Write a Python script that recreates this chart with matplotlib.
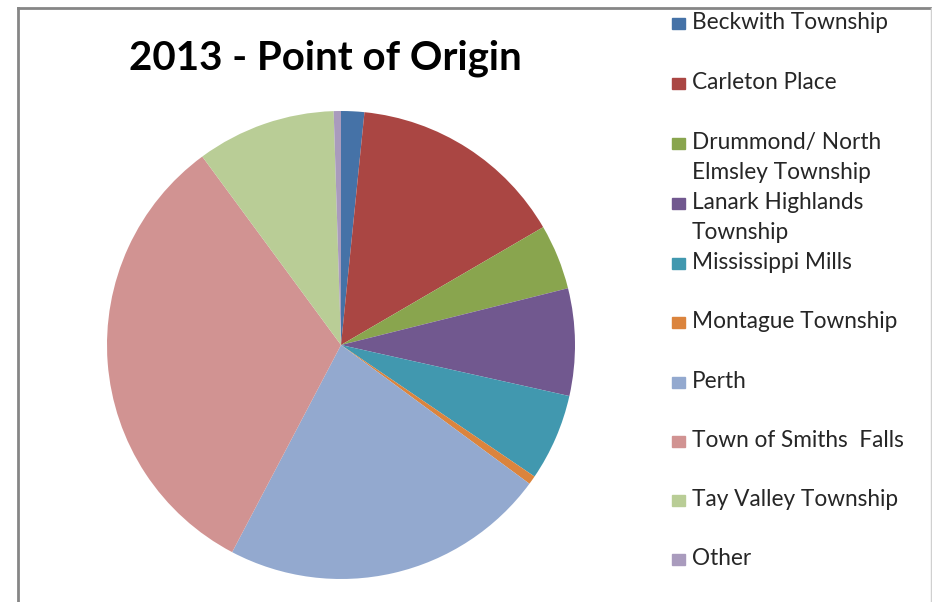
import matplotlib
matplotlib.use('Agg')
import matplotlib.pyplot as plt
from matplotlib.patches import Rectangle

# data
labels = ['Beckwith Township', 'Carleton Place', 'Drummond/ North\nElmsley Township',
          'Lanark Highlands\nTownship', 'Mississippi Mills', 'Montague Township',
          'Perth', 'Town of Smiths  Falls', 'Tay Valley Township', 'Other']
shares = [1.6, 15.0, 4.5, 7.4, 6.0, 0.6, 22.6, 32.2, 9.6, 0.5]
colors = ['#4572A7', '#AA4643', '#89A54E', '#71588F', '#4198AF',
          '#DB843D', '#93A9CF', '#D19392', '#B9CD96', '#A99BBD']

W, H = 932, 602
fig = plt.figure(figsize=(W / 100, H / 100), dpi=100)

# pie centre (341, 345), radius 234 in pixels
cx, cy, r = 341, 345, 234
ax = fig.add_axes([(cx - r) / W, (H - cy - r) / H, 2 * r / W, 2 * r / H])
ax.pie(shares, colors=colors, startangle=90, counterclock=False,
       wedgeprops={'linewidth': 0})
ax.set_xlim(-1, 1)
ax.set_ylim(-1, 1)
ax.set_aspect('equal')

fig.text(325 / W, 1 - 58 / H, '2013 - Point of Origin', ha='center', va='center',
         fontsize=29, fontweight='bold', family='Lato', color='black')

# legend, drawn by hand so the spacing matches (baseline of first line per entry)
base_y = [29, 89, 149, 209, 269, 328, 388, 447, 506, 565]
for lab, col, y in zip(labels, colors, base_y):
    fig.patches.append(Rectangle((672 / W, 1 - y / H), 13 / W, 11 / H,
                                 transform=fig.transFigure, color=col))
    for i, line in enumerate(lab.split('\n')):
        fig.text(692 / W, 1 - (y + 30 * i) / H, line, ha='left', va='baseline',
                 fontsize=16.3, family='Lato', color='#262626')

# frame lines
fig.add_artist(plt.Line2D([18 / W, 18 / W], [0, 1 - 8 / H], transform=fig.transFigure,
                          color='#868686', lw=2))
fig.add_artist(plt.Line2D([18 / W, 1], [1 - 8 / H, 1 - 8 / H], transform=fig.transFigure,
                          color='#868686', lw=2))
fig.add_artist(plt.Line2D([930.5 / W, 930.5 / W], [0, 1 - 8 / H], transform=fig.transFigure,
                          color='#d0d0d0', lw=1))

fig.savefig('out.png', dpi=100)
